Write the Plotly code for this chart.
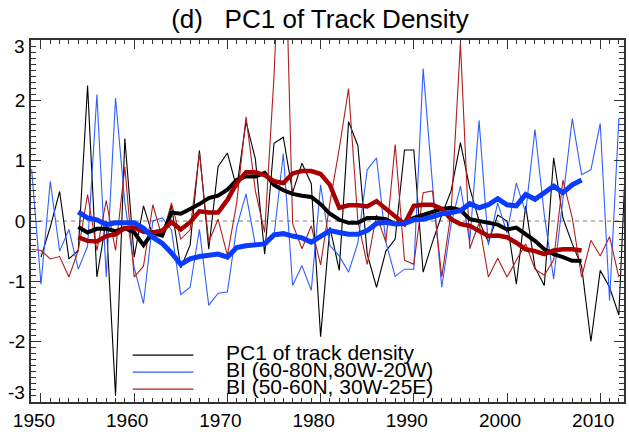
import plotly.graph_objects as go

# ---------------- data ----------------
years = list(range(1949, 2014))
pc1_track_density = [
    None, -0.60, -0.10, 0.49, -0.63, -0.49, 2.25, -0.93, 0.00, -2.90,
    1.37, -0.60, 0.25, -0.25, -0.25, 0.25, -0.78, -0.40, 1.17, -0.47,
    0.90, 1.13, 0.55, 1.65, 1.03, -0.55, 1.29, 1.39, 0.47, 0.96,
    0.62, -1.92, -0.10, -0.82, 1.65, 1.25, -0.55, -1.10, -0.50, -0.30,
    1.18, 1.18, -0.85, -0.35, 0.10, 0.50, 1.30, 0.55, 0.00, -0.35,
    0.10, 0.00, -1.05, 0.25, -0.77, -1.07, 1.05, 0.05, -0.38, -0.75,
    -2.00, -0.82, -1.10, -1.56, 2.00,
]
bi_60_80n = [
    0.86, -1.05, 0.66, -0.50, -0.14, -0.80, -0.42, 2.10, -0.93, 2.04,
    0.30, -0.77, -1.37, 0.00, 0.05, -0.15, -1.22, -1.10, -0.14, -1.40,
    -1.20, -1.18, -0.10, 0.45, -0.40, -0.40, -0.25, 1.12, -1.07, -0.74,
    -1.15, 0.60, -0.41, -0.58, -0.85, -0.36, 0.85, 1.05, -0.35, -0.92,
    -0.80, -0.80, 2.53, 0.62, -1.10, -0.05, 0.58, -0.35, 1.67, -0.40,
    0.30, -0.20, 0.63, 0.14, 1.52, 0.10, -0.96, 0.40, 1.70, 0.77,
    0.85, 1.62, -1.32, 1.70, None,
]
bi_50_60n = [
    -0.47, -0.49, -0.63, -0.59, -0.93, -0.49, 0.44, -0.49, 0.34, -0.49,
    0.90, -0.93, -0.75, 0.27, -0.27, 0.30, -0.30, -0.15, 1.13, -0.35,
    0.03, -0.57, 0.30, 1.73, 0.50, -0.19, 2.40, 6.00, -0.05, -0.46,
    -0.08, -0.73, 0.30, 1.20, 2.20, 0.00, -0.72, 0.10, -0.35, 1.27,
    -0.65, -0.72, 0.47, 0.50, -0.93, 0.15, 2.95, -0.46, -0.03, -0.93,
    -0.62, -0.93, -0.65, -0.38, -0.80, -0.90, -0.65, 0.68, 0.05, -0.93,
    -0.32, -0.58, -0.26, -0.93, None,
]

smooth_years = list(range(1954, 2009))
pc1_smooth = [
    -0.10, -0.19, -0.13, -0.13, -0.17, -0.12, -0.19, -0.40, -0.19, -0.24,
    0.14, 0.12, 0.20, 0.28, 0.38, 0.42, 0.52, 0.68, 0.74, 0.74,
    0.80, 0.60, 0.51, 0.45, 0.42, 0.40, 0.28, 0.12, 0.02, -0.03,
    -0.03, 0.05, 0.05, 0.03, -0.05, -0.02, 0.05, 0.10, 0.15, 0.20,
    0.22, 0.18, 0.03, 0.00, -0.03, -0.06, -0.14, -0.11, -0.22, -0.33,
    -0.47, -0.55, -0.60, -0.66, -0.66,
]
bi_60_80n_smooth = [
    0.15, 0.05, 0.02, -0.06, -0.03, -0.02, -0.03, -0.12, -0.27, -0.37,
    -0.53, -0.72, -0.63, -0.59, -0.58, -0.55, -0.60, -0.44, -0.41, -0.40,
    -0.38, -0.23, -0.21, -0.25, -0.28, -0.35, -0.25, -0.16, -0.19, -0.22,
    -0.22, -0.16, -0.04, -0.02, -0.05, -0.04, 0.02, 0.03, 0.07, 0.12,
    0.14, 0.17, 0.29, 0.22, 0.27, 0.37, 0.27, 0.25, 0.44, 0.36,
    0.47, 0.58, 0.47, 0.60, 0.68,
]
bi_50_60n_smooth = [
    -0.27, -0.33, -0.34, -0.25, -0.22, -0.12, -0.11, -0.18, -0.19, -0.16,
    -0.02, -0.14, -0.02, 0.16, 0.14, 0.14, 0.35, 0.63, 0.81, 0.81,
    0.76, 0.66, 0.63, 0.79, 0.83, 0.83, 0.78, 0.60, 0.22, 0.26,
    0.26, 0.24, 0.33, 0.20, 0.06, -0.05, 0.25, 0.27, 0.27, 0.20,
    0.03, -0.05, -0.08, -0.16, -0.25, -0.24, -0.27, -0.36, -0.47, -0.50,
    -0.55, -0.49, -0.47, -0.47, -0.49,
]

legend_labels = ["PC1 of track density", "BI (60-80N,80W-20W)", "BI (50-60N, 30W-25E)"]
title_text = "(d)\u00a0\u00a0\u00a0PC1 of Track Density"
x_tickvals = [1950, 1960, 1970, 1980, 1990, 2000, 2010]
x_ticktext = ["1950", "1960", "1970", "1980", "1990", "2000", "2010"]
y_tickvals = [-2, -1, 0, 1, 2]
y_ticktext = ["-2", "-1", "0", "1", "2"]
y_end_vals = [3, -3]
y_end_text = ["3", "-3"]

# ---------------- styles ----------------
BLACK = "#000000"
BLUE_THIN = "#2f5fff"
BLUE_THICK = "#0a3cff"
RED_THIN = "#b01c1c"
RED_THICK = "#a80000"
AXC = "#333333"
FONT = "Liberation Sans, Arial, sans-serif"

W, H = 629, 434
L, R, T, B = 31, 3, 40, 31
pw, ph = W - L - R, H - T - B


def px_x(x):
    return (x - L) / pw


def px_y(y):
    return (H - B - y) / ph


fig = go.Figure()

for ys, col in [(pc1_track_density, BLACK), (bi_60_80n, BLUE_THIN), (bi_50_60n, RED_THIN)]:
    fig.add_trace(go.Scatter(x=years, y=ys, mode="lines",
                             line=dict(color=col, width=1.1),
                             showlegend=False, connectgaps=False))

for ys, col, w in [(pc1_smooth, BLACK, 4), (bi_50_60n_smooth, RED_THICK, 4.5),
                   (bi_60_80n_smooth, BLUE_THICK, 5)]:
    fig.add_trace(go.Scatter(x=smooth_years, y=ys, mode="lines",
                             line=dict(color=col, width=w),
                             showlegend=False))

# zero dashed line
fig.add_shape(type="line", xref="paper", yref="y", x0=0, x1=1, y0=0, y1=0,
              line=dict(color="#777777", width=1, dash="4px,4px"), layer="below")

# legend (manual)
leg_cols = [BLACK, BLUE_THIN, RED_THIN]
leg_y = [356, 373, 390]
for lab, col, yy in zip(legend_labels, leg_cols, leg_y):
    fig.add_shape(type="line", xref="paper", yref="paper",
                  x0=px_x(133), x1=px_x(194), y0=px_y(yy), y1=px_y(yy),
                  line=dict(color=col, width=1.2))
    fig.add_annotation(text=lab, xref="paper", yref="paper",
                       x=px_x(225), y=px_y(yy - 3), xanchor="left", yanchor="middle",
                       showarrow=False, font=dict(family=FONT, size=21, color="black"))

# end y labels nudged inward, as in the reference
for v, t, sh in zip(y_end_vals, y_end_text, [-6, 9]):
    fig.add_annotation(text=t, xref="paper", yref="y", x=0, y=v, xanchor="right",
                       yanchor="middle", xshift=-4, yshift=sh, showarrow=False,
                       font=dict(family=FONT, size=19, color="black"))

fig.update_layout(
    width=W, height=H,
    margin=dict(l=L, r=R, t=T, b=B),
    paper_bgcolor="white", plot_bgcolor="white",
    title=dict(text=title_text, x=320 / W, xanchor="center",
               y=1 - 19 / H, yanchor="middle",
               font=dict(family=FONT, size=26, color="black")),
    font=dict(family=FONT, size=19, color="black"),
)

axis_common = dict(showline=True, linecolor=AXC, linewidth=1.5, mirror="ticks",
                   ticks="inside", tickcolor=AXC, tickwidth=1,
                   showgrid=False, zeroline=False,
                   tickfont=dict(family=FONT, size=19, color="black"))

fig.update_xaxes(range=[1948.93, 2012.55], tickmode="array",
                 tickvals=x_tickvals, ticktext=x_ticktext, ticklen=9,
                 ticklabelshift=-7,
                 minor=dict(ticks="inside", ticklen=4, dtick=1, tick0=1950,
                            tickcolor=AXC, showgrid=False),
                 **axis_common)
fig.update_yaxes(range=[-3.005, 3.005], tickmode="array",
                 tickvals=y_tickvals, ticktext=y_ticktext, ticklen=10,
                 minor=dict(ticks="inside", ticklen=5, dtick=0.1, tick0=0,
                            tickcolor=AXC, showgrid=False),
                 **axis_common)

fig.write_html("out.html")
